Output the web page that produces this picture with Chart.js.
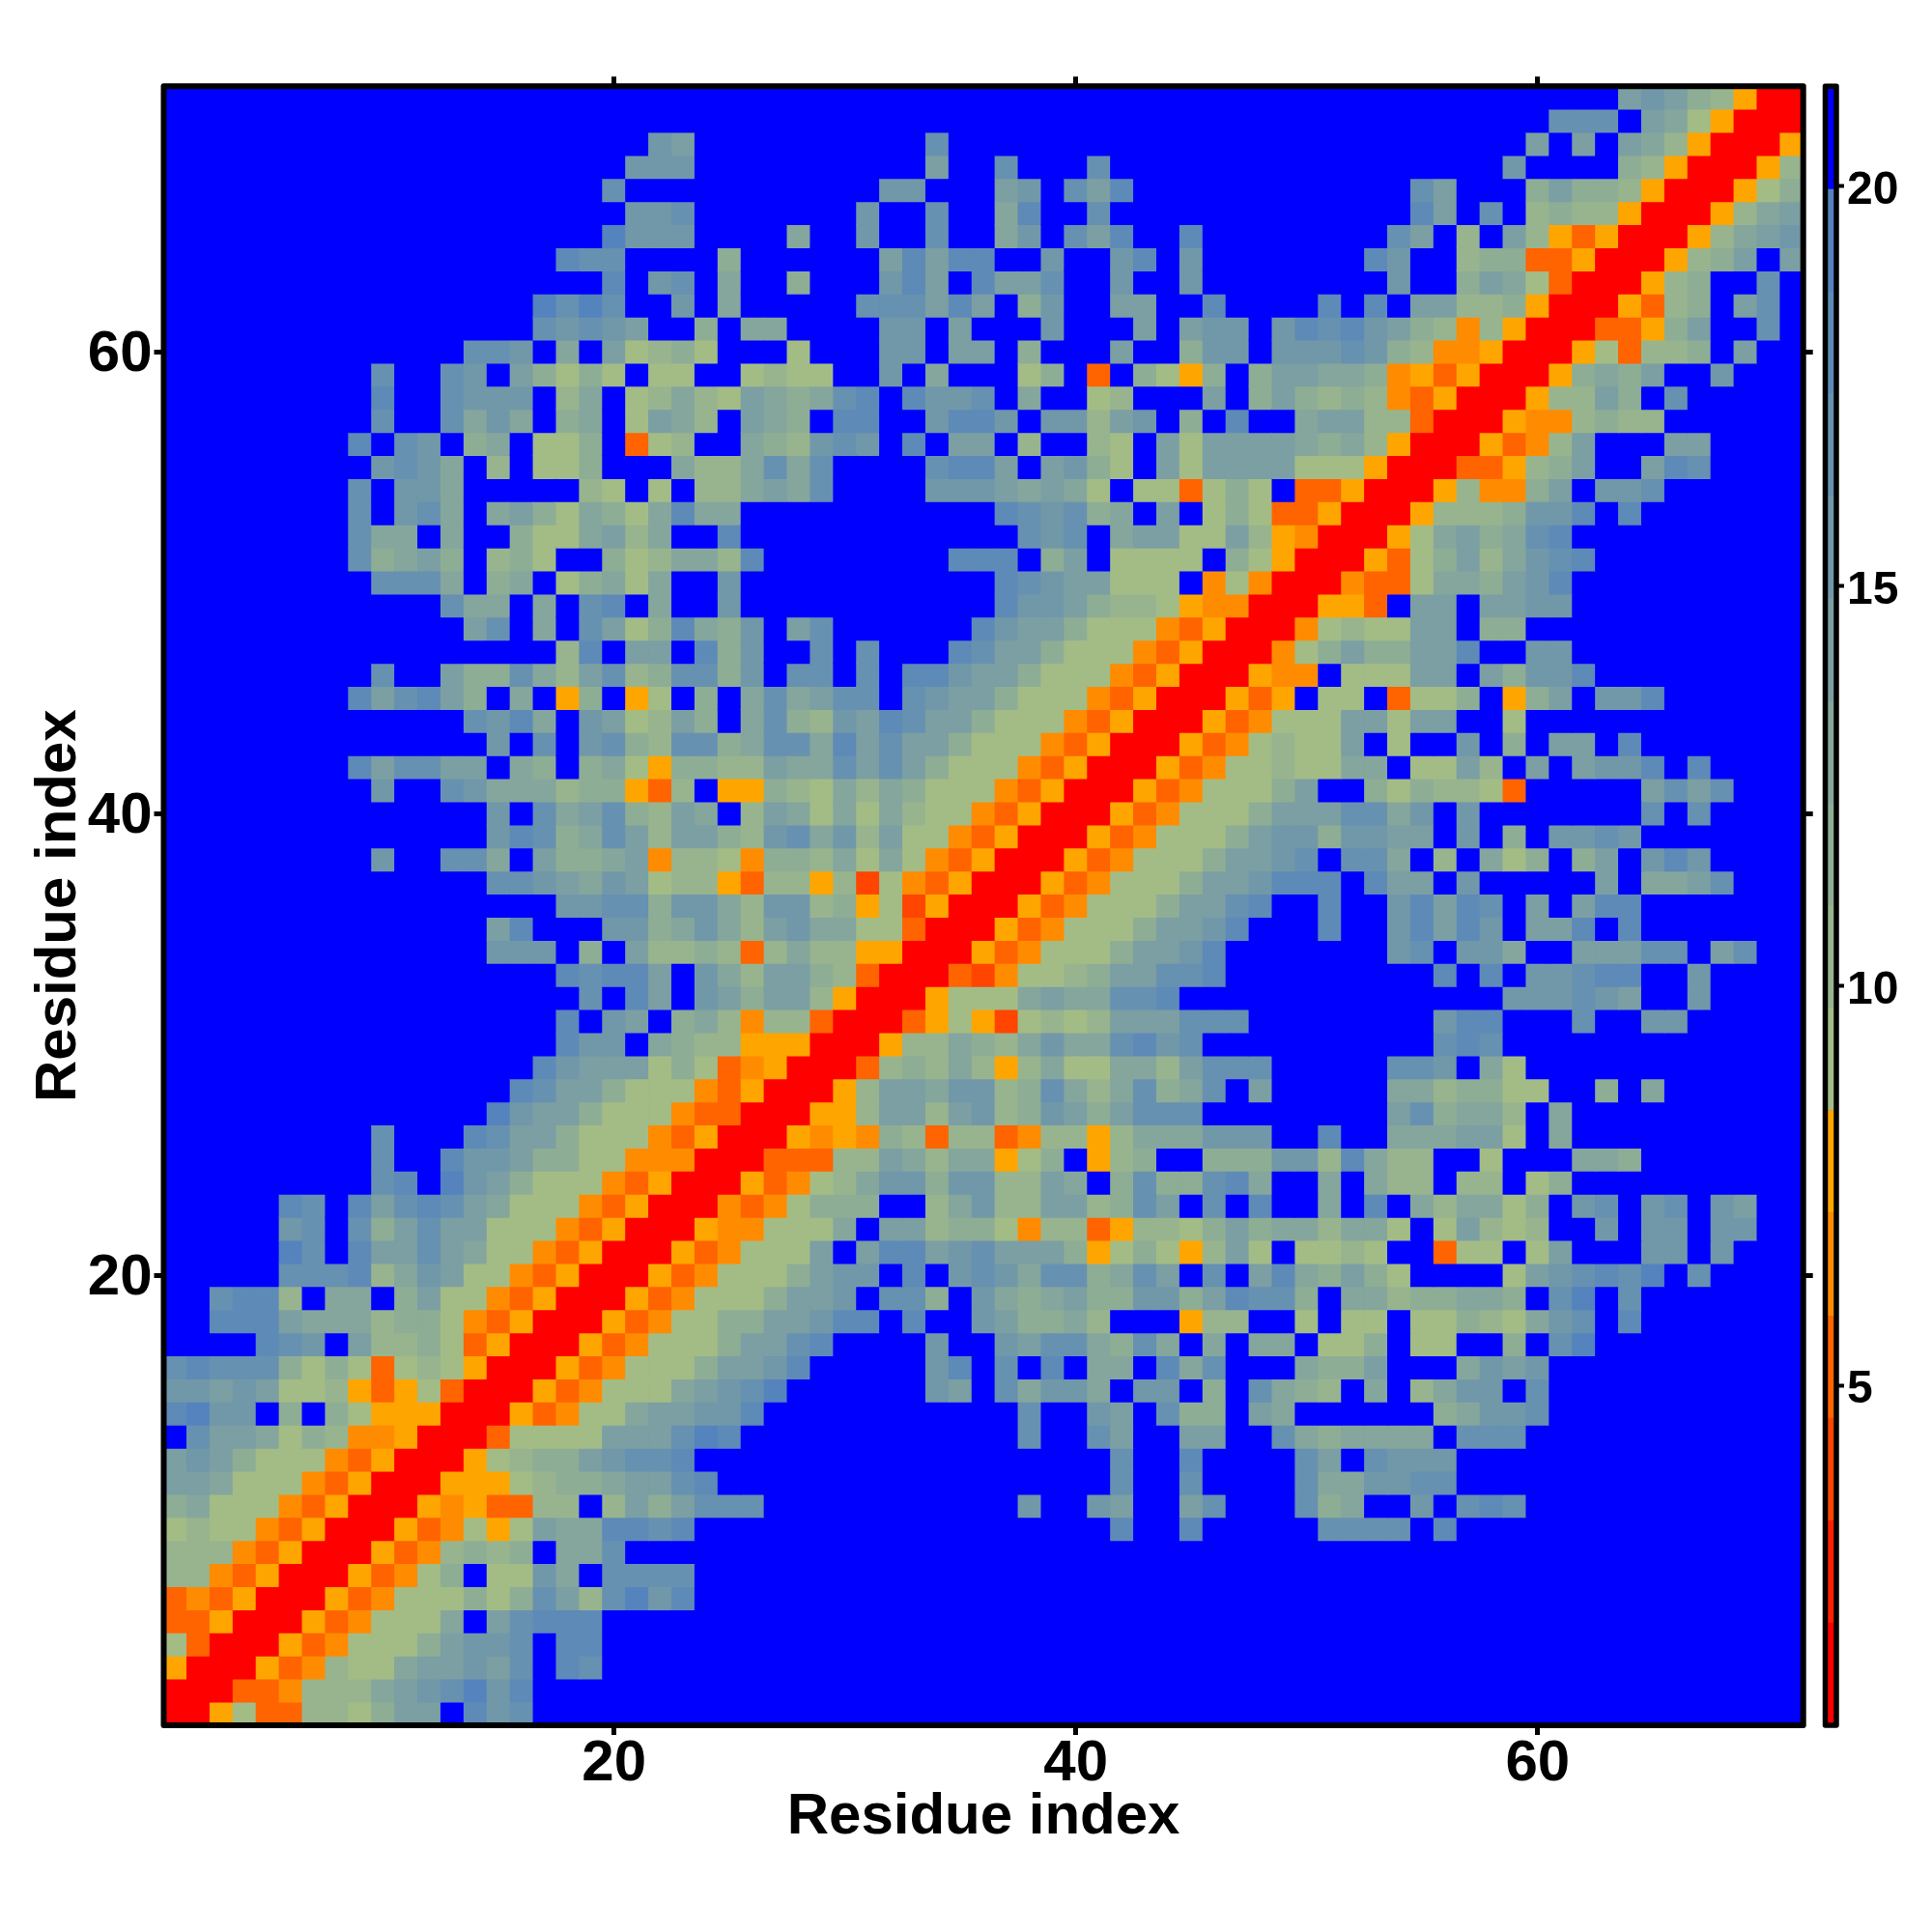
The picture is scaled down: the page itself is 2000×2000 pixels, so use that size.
<!DOCTYPE html>
<html>
<head>
<meta charset="utf-8">
<script src="https://cdn.jsdelivr.net/npm/chart.js@4"></script>
<style>
  body { margin: 0; background: #ffffff; }
  canvas { position: absolute; top: 0; }
</style>
</head>
<body>
<canvas id="map_chart" width="2000" height="2000" style="left:0"></canvas>
<canvas id="bar_chart" width="130" height="2000" style="left:1870px"></canvas>
<script>
// Distance map is symmetric, so each row holds the cells from the diagonal (x = y) rightwards.
// Each char is a colour bin (see binKeys); cells past the end of a row are in the top (blue) bin.
const distanceRows = [
  "rrf1dd221355.867",
  "rrdde2224567968",
  "rrfde211455657.87",
  "rrfde11135667.88",
  "rrfde1114.57888",
  "rrfde1113137527968",
  "rrfde13.1164.7777",
  "rrfde2323.447",
  "rrfde1f15448878..................8..8.....7777.8",
  "rrfefdd22.2535777...........6..65..57...734..6.787",
  "rrfff123345578.................7..7....7446677",
  "rrf123356778..................7..8....75.7666",
  "rrd1111555798............7..75..55..7434444.777",
  "rrfde11455668...........7..65.733.54......34667",
  "rrfde11145679......65.74664.66.3.7432.4.2466.7",
  "rrfde11135568.....68.7.8.44.847...4335...4656",
  "rrfde11135578....6..65774374.4.44.113.11..3.79",
  "rrfde113355688.8..653342...f22..1.11.11321467.8",
  "rrfde1113556.773.643453366358773.44233443.79.7",
  "rrfde1113566.8.6764773475.7.5843531....1567879.7",
  "rrfde1115.5885675553f131f251.1121..d11.15...66.6",
  "rrfee1114.552331e22df221353442441.15212..6.66.66",
  "rrede1333..24622552375.7.8..4.8.424413.67.67.65",
  "rrfde124663662254.3733784..4.422.22.13",
  "rrddd2254244f13.f23..3336628422..1...443",
  "rrfefe32d22de22f2444666..8..444551.4",
  "rrff255256236535777........573442.4",
  "rrf2554662374247347.5.....4423311..3.4",
  "rrd23242f24114425777.....776.41",
  "rrf2243246447867..........787",
  "rrdf1fc1212555777........688...7..66",
  "rrf1114544778..............666765..6",
  "rrdce112355778.........8.8.66788..6",
  "rrfde11135568.......67.664..55577.57",
  "rrfde11135568...8..68586.558.8",
  "rrfde11135578..8..68587.5.588",
  "rrfde1113556888.855.6.....5.4457",
  "rrfde11135567.774.2.413.35.686",
  "rrfde111356636655.6.3.6676",
  "rrfde11135557746.6.......7.7",
  "rrfde11135..313221d.....5757",
  "rrfde1121144.1152.5.5668.8",
  "rrfde12115.1..6.3.55.8",
  "rrfde11155155..1",
  "rrfdf.11.d113.f35.668",
  "rrfee.11155.53668",
  "rre13533558..66",
  "rre121155.33",
  "rrffd.55.5566",
  "rredd1443568",
  "rrfd13524678",
  "rrf1453478",
  "rrf2223668.8",
  "rrf2ee35.667",
  "rrddf235..587",
  "rrfde25...55",
  "rrfee2322",
  "rrf2253.7",
  "rrf3435..6",
  "rrf1d223.5",
  "rrddf35..7",
  "rrfd23.57",
  "rrf23..7",
  "rrf235.5",
  "rrf2456",
  "rrf245",
  "rrf13",
  "rrf2",
  "rrf",
  "rr",
  "r"
];

// Colour bins of the scale, lowest first
const binKeys = ["r", "b", "c", "d", "e", "f", "1", "2", "3", "4", "5", "6", "7", "8", "9", "."];
const binEdges = [0.75, 2.03, 3.31, 4.59, 5.87, 7.16, 8.44, 9.72, 11.0, 12.28, 13.56, 14.84, 16.12, 17.4, 18.68, 19.96, 21.25];
const binColors = [
  "#ff0000", "#ff2000", "#ff4500", "#ff6400", "#ff8c00", "#ffa500",
  "#a3bc86", "#98b48e", "#8ead95", "#85a69c", "#7b9fa3", "#7198a9", "#6791b0", "#5e8ab7", "#5483be",
  "#0000ff"
];

const residueCount = 71;
const residueTicks = [20, 40, 60];
const scaleTicks = [5, 10, 15, 20];
const axisTitle = "Residue index";
const fontFamily = '"Liberation Sans", Arial, sans-serif';

function binMiddle(bin) {
  return (binEdges[bin] + binEdges[bin + 1]) / 2;
}

function binOfValue(v) {
  let bin = 0;
  while (bin < binColors.length - 1 && v >= binEdges[bin + 1]) bin++;
  return bin;
}

// Build the points of the map from the rows
const cells = [];
distanceRows.forEach((row, r) => {
  const y = r + 1;
  for (let x = y; x <= residueCount; x++) {
    const key = row[x - y] || ".";
    const v = binMiddle(binKeys.indexOf(key));
    cells.push({ x: x, y: y, v: v });
    if (x !== y) cells.push({ x: y, y: x, v: v });
  }
});

// Blue under the cells so no seams show, black box on top of them
const framePlugin = {
  id: "frame",
  beforeDatasetsDraw(chart) {
    const a = chart.chartArea;
    chart.ctx.save();
    chart.ctx.fillStyle = binColors[binColors.length - 1];
    chart.ctx.fillRect(a.left, a.top, a.right - a.left, a.bottom - a.top);
    chart.ctx.restore();
  },
  afterDraw(chart, args, opts) {
    const a = chart.chartArea;
    const ctx = chart.ctx;
    ctx.save();
    ctx.strokeStyle = "#000000";
    ctx.lineWidth = opts.width;
    ctx.lineJoin = "round";
    ctx.strokeRect(a.left, a.top, a.right - a.left, a.bottom - a.top);
    ctx.restore();
  },
};

function fixTicks(values) {
  return (axis) => {
    axis.ticks = values.map((v) => ({ value: v }));
  };
}

function residueAxis(position, size, showLabels, title) {
  const horizontal = position === "top" || position === "bottom";
  return {
    type: "linear",
    position: position,
    min: 0.5,
    max: residueCount + 0.5,
    afterBuildTicks: fixTicks(residueTicks),
    afterFit: (s) => {
      if (horizontal) s.height = size;
      else s.width = size;
    },
    border: { display: false },
    grid: {
      drawOnChartArea: false,
      drawTicks: true,
      tickLength: 10,
      tickWidth: 5,
      tickColor: "#000000",
    },
    ticks: {
      display: showLabels,
      padding: horizontal ? -6 : 2,
      labelOffset: horizontal ? 0 : 3,
      maxRotation: 0,
      color: "#000000",
      font: { family: fontFamily, size: 60, weight: "bold" },
    },
    title: title,
  };
}

new Chart(document.getElementById("map_chart").getContext("2d"), {
  type: "scatter",
  data: {
    datasets: [
      {
        data: cells,
        pointStyle: "rect",
        pointBorderWidth: 0,
        // rect radius is half the diagonal; a bit of overlap hides the seams
        pointRadius: (ctx) => {
          const area = ctx.chart.chartArea;
          const side = area ? area.width / residueCount : 23.9;
          return (side + 0.8) * Math.SQRT1_2;
        },
        pointBackgroundColor: (ctx) => (ctx.raw ? binColors[binOfValue(ctx.raw.v)] : binColors[15]),
      },
    ],
  },
  options: {
    responsive: false,
    animation: false,
    events: [],
    layout: { padding: 0 },
    plugins: {
      legend: { display: false },
      tooltip: { enabled: false },
      frame: { width: 6 },
    },
    scales: {
      x: residueAxis("bottom", 214, true, {
        display: true,
        text: axisTitle,
        color: "#000000",
        font: { family: fontFamily, size: 60, weight: "bold" },
        padding: { top: 0, bottom: 83 },
      }),
      y: residueAxis("left", 169.5, true, {
        display: true,
        text: axisTitle,
        color: "#000000",
        font: { family: fontFamily, size: 60, weight: "bold" },
        padding: { top: 25, bottom: 0 },
      }),
      xTop: residueAxis("top", 89.3, false, { display: false }),
      yRight: residueAxis("right", 133.3, false, { display: false }),
    },
  },
  plugins: [framePlugin],
});

// Colour scale on the right, one floating bar per bin
new Chart(document.getElementById("bar_chart").getContext("2d"), {
  type: "bar",
  data: {
    labels: [""],
    datasets: binColors.map((color, i) => ({
      data: [[binEdges[i], binEdges[i + 1]]],
      backgroundColor: color,
      borderWidth: 0,
      grouped: false,
      barPercentage: 1,
      categoryPercentage: 1,
    })),
  },
  options: {
    responsive: false,
    animation: false,
    events: [],
    layout: { padding: { left: 19.5, top: 89.3, bottom: 214 } },
    plugins: {
      legend: { display: false },
      tooltip: { enabled: false },
      frame: { width: 5.5 },
    },
    scales: {
      x: { display: false },
      y: {
        position: "right",
        min: binEdges[0],
        max: binEdges[binEdges.length - 1],
        afterBuildTicks: fixTicks(scaleTicks),
        afterFit: (s) => {
          s.width = 99;
        },
        border: { display: false },
        grid: {
          drawOnChartArea: false,
          drawTicks: true,
          tickLength: 8,
          tickWidth: 4,
          tickColor: "#000000",
        },
        ticks: {
          padding: 3,
          labelOffset: 5,
          color: "#000000",
          font: { family: fontFamily, size: 48, weight: "bold" },
        },
      },
    },
  },
  plugins: [framePlugin],
});
</script>
</body>
</html>
